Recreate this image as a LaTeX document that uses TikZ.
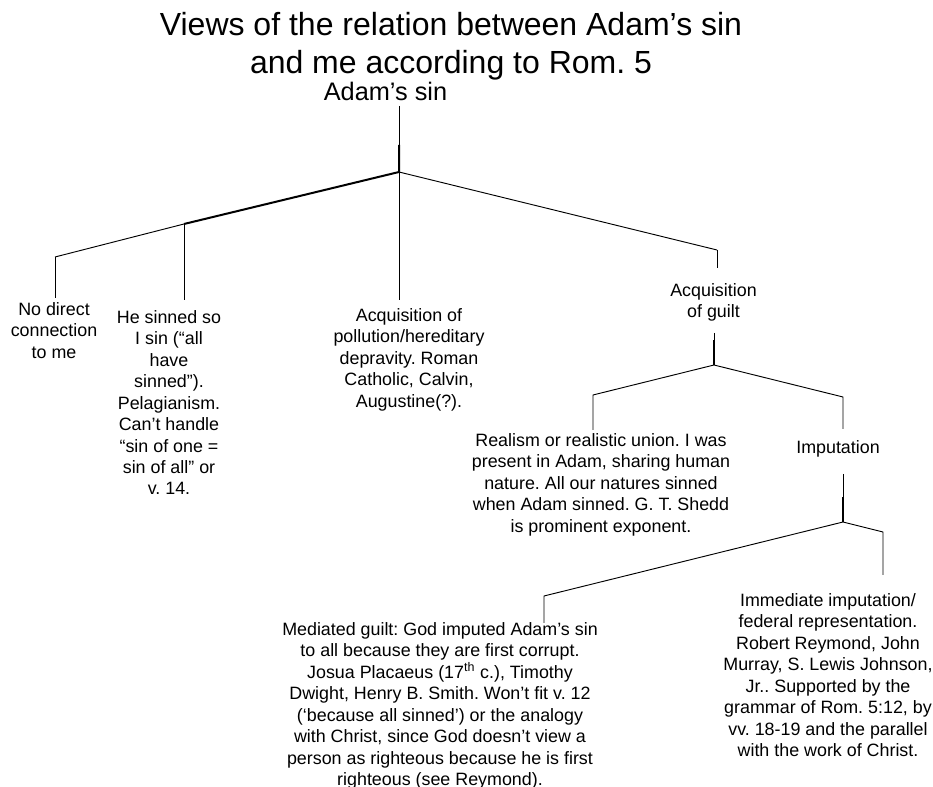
\documentclass[tikz,border=0pt]{standalone}
\usepackage{fontspec}
\setmainfont{Liberation Sans}
\usetikzlibrary{calc}
\frenchspacing

\begin{document}
\begin{tikzpicture}[
    x=0.75pt, y=-0.75pt,
    every node/.style={inner sep=0pt, align=center, anchor=north},
    ttl/.style={font=\fontsize{24}{28.5}\selectfont},
    rootlbl/.style={font=\fontsize{19}{22}\selectfont},
    txt/.style={font=\fontsize{13.4}{16.1}\selectfont},
    branch/.style={black, line width=0.7pt},
    trunk/.style={black, line width=1.5pt},
]
\useasboundingbox (0,0) rectangle (933,787);

% title and root
\node[ttl] (title) at (451,12) {Views of the relation between Adam’s sin\\and me according to Rom. 5};
\node[rootlbl] (adam) at (385.5,82) {Adam’s sin};

% ---------------- first level
\coordinate (a0) at (399,106);
\coordinate (a1) at (399,145);
\coordinate (j0) at (399,172);
\coordinate (kL) at (55,257);
\coordinate (kM) at (184,224);
\coordinate (kR) at (717,250);
\draw[branch] (a0) -- (a1);
\draw[trunk] (a1) -- (j0) -- (kM);
\draw[branch] (kM) -- (kL);
\draw[branch] (j0) -- (kR);
\foreach \k/\len in {kL/41, kM/76, j0/128, kR/18}{
    \draw[branch] (\k) -- ++(0,\len);
}

\node[txt] (nodir) at (54,302) {No direct\\connection\\to me};
\node[txt] (sinned) at (169,310) {He sinned so\\I sin (“all\\have\\sinned”).\\Pelagianism.\\Can’t handle\\“sin of one =\\sin of all” or\\v. 14.};
\node[txt] (pollut) at (409,308) {Acquisition of\\pollution/hereditary\\depravity. Roman\\Catholic, Calvin,\\Augustine(?).};
\node[txt] (guilt) at (713.5,283) {Acquisition\\of guilt};

% ---------------- guilt
\coordinate (g0) at (714,333);
\coordinate (g1) at (714,340);
\coordinate (j1) at (714,365);
\coordinate (gL) at (593,395);
\coordinate (gR) at (843,397);
\draw[branch] (g0) -- (g1);
\draw[trunk] (g1) -- (j1);
\draw[branch] (j1) -- (gL) -- ++(0,35);
\draw[branch] (j1) -- (gR) -- ++(0,32);

\node[txt] (real) at (601,433) {Realism or realistic union. I was\\present in Adam, sharing human\\nature. All our natures sinned\\when Adam sinned. G. T. Shedd\\is prominent exponent.};
\node[txt] (imput) at (838,440) {Imputation};

% ---------------- imputation
\coordinate (i0) at (843,474);
\coordinate (i1) at (843,497);
\coordinate (j2) at (843,522);
\coordinate (iL) at (544,596);
\coordinate (iR) at (883,532);
\draw[branch] (i0) -- (i1);
\draw[trunk] (i1) -- (j2);
\draw[branch] (j2) -- (iL) -- ++(0,27);
\draw[branch] (j2) -- (iR) -- ++(0,43);

\node[txt] (medi) at (440,622) {Mediated guilt: God imputed Adam’s sin\\to all because they are first corrupt.\\Josua Placaeus (17\textsuperscript{th} c.), Timothy\\Dwight, Henry B. Smith. Won’t fit v. 12\\(‘because all sinned’) or the analogy\\with Christ, since God doesn’t view a\\person as righteous because he is first\\righteous (see Reymond).};
\node[txt] (immed) at (828,593) {Immediate imputation/\\federal representation.\\Robert Reymond, John\\Murray, S. Lewis Johnson,\\Jr.. Supported by the\\grammar of Rom. 5:12, by\\vv. 18-19 and the parallel\\with the work of Christ.};
\end{tikzpicture}
\end{document}
